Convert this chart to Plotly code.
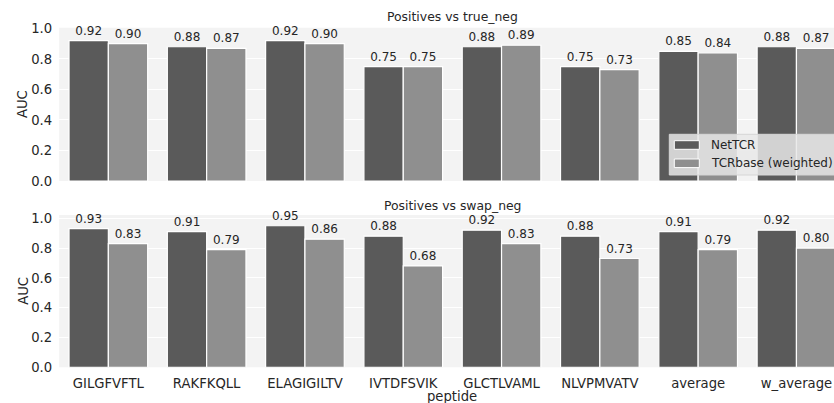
import plotly.graph_objects as go

# Peptides on the x axis (two trailing summary columns)
peptides = ["GILGFVFTL", "RAKFKQLL", "ELAGIGILTV", "IVTDFSVIK",
            "GLCTLVAML", "NLVPMVATV", "average", "w_average"]
models = ["NetTCR", "TCRbase (weighted)"]

# AUC, positives vs true negatives
true_neg_nettcr = [0.92, 0.88, 0.92, 0.75, 0.88, 0.75, 0.85, 0.88]
true_neg_tcrbase = [0.90, 0.87, 0.90, 0.75, 0.89, 0.73, 0.84, 0.87]
# AUC, positives vs swapped negatives
swap_neg_nettcr = [0.93, 0.91, 0.95, 0.88, 0.92, 0.88, 0.91, 0.92]
swap_neg_tcrbase = [0.83, 0.79, 0.86, 0.68, 0.83, 0.73, 0.79, 0.80]

panel_titles = ["Positives vs true_neg", "Positives vs swap_neg"]
y_ticks = [0.0, 0.2, 0.4, 0.6, 0.8, 1.0]

W, H = 834, 403
FONT = "DejaVu Sans"
TXT = "#262626"
BG = "#f3f3f3"
COLORS = ["#5a5a5a", "#8f8f8f"]
TICK_SIZE = 13.2
LABEL_SIZE = 12.0


def px_x(p):
    return p / W


def px_y(p):
    return 1 - p / H


fig = go.Figure()

panels = [(true_neg_nettcr, true_neg_tcrbase), (swap_neg_nettcr, swap_neg_tcrbase)]
for i, (a, b) in enumerate(panels):
    xa = "x" if i == 0 else "x2"
    ya = "y" if i == 0 else "y2"
    for name, vals, col in zip(models, (a, b), COLORS):
        fig.add_trace(go.Bar(
            x=peptides, y=vals, name=name, xaxis=xa, yaxis=ya,
            marker=dict(color=col, line=dict(color="white", width=1.2)),
            texttemplate="%{y:.2f}", textposition="outside",
            textfont=dict(family=FONT, size=LABEL_SIZE, color=TXT),
            cliponaxis=False, showlegend=False,
        ))

x_left = px_x(59.2)
common_x = dict(type="category", range=[-0.5, 7.382], domain=[x_left, 1],
                showgrid=False, zeroline=False, showline=False, ticks="",
                automargin=False,
                tickfont=dict(family=FONT, size=TICK_SIZE, color=TXT))
common_y = dict(tickvals=y_ticks, ticktext=[f"{v:.1f}" for v in y_ticks],
                showgrid=True, gridcolor="white", gridwidth=1,
                zeroline=False, showline=False, ticks="", automargin=False,
                ticklabelstandoff=6,
                tickfont=dict(family=FONT, size=TICK_SIZE, color=TXT))

fig.update_layout(
    width=W, height=H,
    margin=dict(l=0, r=0, t=0, b=0),
    paper_bgcolor="white", plot_bgcolor=BG,
    barmode="group", bargap=0.2, bargroupgap=0.0,
    font=dict(family=FONT, color=TXT),
    xaxis=dict(common_x, anchor="y", showticklabels=False),
    yaxis=dict(common_y, anchor="x", range=[0, 1.005],
               domain=[px_y(181), px_y(27.7)]),
    xaxis2=dict(common_x, anchor="y2", showticklabels=True, ticklabelstandoff=6),
    yaxis2=dict(common_y, anchor="x2", range=[0, 1.022],
                domain=[px_y(367.3), px_y(215)]),
)

# Panel titles, axis labels
ann = []
for title, yc in zip(panel_titles, (16.7, 205)):
    ann.append(dict(text=title, x=px_x(452.4), y=px_y(yc), xref="paper", yref="paper",
                    xanchor="center", yanchor="middle", showarrow=False,
                    font=dict(family=FONT, size=12.4, color=TXT)))
for yc in ((27.7 + 181) / 2, (215 + 367.3) / 2):
    ann.append(dict(text="AUC", x=px_x(22.7), y=px_y(yc), xref="paper", yref="paper",
                    xanchor="center", yanchor="middle", textangle=-90, showarrow=False,
                    font=dict(family=FONT, size=TICK_SIZE, color=TXT)))
ann.append(dict(text="peptide", x=px_x(452.4), y=px_y(396.7), xref="paper", yref="paper",
                xanchor="center", yanchor="middle", showarrow=False,
                font=dict(family=FONT, size=TICK_SIZE, color=TXT)))

# Legend box in the top panel's lower right corner
shapes = [dict(type="rect", xref="paper", yref="paper",
               x0=px_x(669.3), x1=px_x(860), y0=px_y(175), y1=px_y(134.3),
               fillcolor="rgba(232,232,232,0.85)", line=dict(color="#d6d6d6", width=1),
               layer="above")]
for name, col, yc in zip(models, COLORS, (145.0, 163.3)):
    shapes.append(dict(type="rect", xref="paper", yref="paper",
                       x0=px_x(674.3), x1=px_x(699.3), y0=px_y(yc + 4.3), y1=px_y(yc - 4.3),
                       fillcolor=col, line=dict(color="white", width=1), layer="above"))
    ann.append(dict(text=name, x=px_x(708.5), y=px_y(yc), xref="paper", yref="paper",
                    xanchor="left", yanchor="middle", showarrow=False,
                    font=dict(family=FONT, size=12.0, color=TXT)))

fig.update_layout(annotations=ann, shapes=shapes)

fig.write_html("out.html")
